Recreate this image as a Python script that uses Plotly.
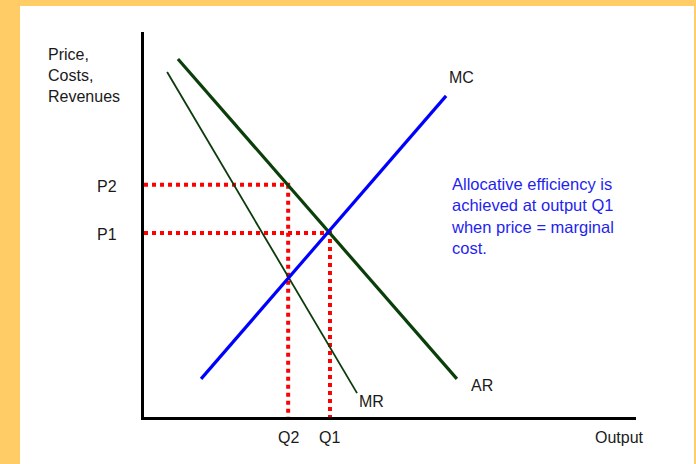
import plotly.graph_objects as go

# Curves (output, price) in chart units
ar_output = [0.69, 6.36]
ar_price = [9.30, 0.99]
mr_output = [0.47, 4.33]
mr_price = [8.96, 0.62]
mc_output = [1.16, 6.14]
mc_price = [0.99, 8.34]

# Key points
q_labels = ["Q2", "Q1"]
q_values = [2.93, 3.78]
p_labels = ["P2", "P1"]
p_values = [6.03, 4.78]

note_text = "Allocative efficiency is<br>achieved at output Q1<br>when price = marginal<br>cost."

FONT = "Liberation Sans, Arial, sans-serif"
TXT = "#1a1a1a"

fig = go.Figure()

# Red dotted guide lines
for q, p in zip(q_values, p_values):
    fig.add_trace(go.Scatter(x=[0, q, q], y=[p, p, 0], mode="lines",
                             line=dict(color="#ff0000", width=4, dash="dot"),
                             hoverinfo="skip", showlegend=False))

fig.add_trace(go.Scatter(x=mr_output, y=mr_price, mode="lines",
                         line=dict(color="#0b3a0b", width=1.8), showlegend=False))
fig.add_trace(go.Scatter(x=ar_output, y=ar_price, mode="lines",
                         line=dict(color="#0a3f0a", width=3.2), showlegend=False))
fig.add_trace(go.Scatter(x=mc_output, y=mc_price, mode="lines",
                         line=dict(color="#0000ff", width=3.2), showlegend=False))

ann = []
ann.append(dict(x=-0.199, y=0.888, xref="paper", yref="paper",
                text="Price,<br>Costs,<br>Revenues", xanchor="left",
                yanchor="middle", align="left", showarrow=False,
                font=dict(family=FONT, size=16, color=TXT)))
ann.append(dict(x=mc_output[1], y=mc_price[1], text="MC", xanchor="left", yanchor="middle",
                xshift=1, yshift=18, showarrow=False, font=dict(family=FONT, size=16, color=TXT)))
ann.append(dict(x=ar_output[1], y=ar_price[1], text="AR", xanchor="left", yanchor="middle",
                xshift=12, yshift=-7, showarrow=False, font=dict(family=FONT, size=16, color=TXT)))
ann.append(dict(x=mr_output[1], y=mr_price[1], text="MR", xanchor="left", yanchor="middle",
                xshift=0, yshift=-8, showarrow=False, font=dict(family=FONT, size=16, color=TXT)))
for lab, q in zip(q_labels, q_values):
    ann.append(dict(x=q, y=0, text=lab, xanchor="center", yanchor="middle", yshift=-20,
                    showarrow=False, font=dict(family=FONT, size=16, color=TXT)))
for lab, p in zip(p_labels, p_values):
    ann.append(dict(x=0, y=p, text=lab, xanchor="right", yanchor="middle", xshift=-25,
                    yshift=-2, showarrow=False, font=dict(family=FONT, size=16, color=TXT)))
ann.append(dict(x=10, y=0, text="Output", xanchor="right", yanchor="middle", xshift=10, yshift=-20,
                showarrow=False, font=dict(family=FONT, size=16, color=TXT)))
ann.append(dict(x=6.2, y=5.22, text=note_text, xanchor="left", yanchor="middle", align="left",
                showarrow=False, font=dict(family=FONT, size=16.5, color="#1f1ff0")))

fig.update_layout(
    width=696, height=464,
    margin=dict(l=144, r=60, t=32, b=47),
    paper_bgcolor="#ffcc66",
    plot_bgcolor="#ffffff",
    annotations=ann,
    shapes=[dict(type="rect", xref="paper", yref="paper",
                 x0=-0.252, x1=1.118, y0=-0.13, y1=1.0675,
                 fillcolor="#ffffff", line=dict(width=0), layer="below")],
    xaxis=dict(range=[0, 10], showgrid=False, zeroline=False, showticklabels=False,
               ticks="", showline=True, linecolor="#000000", linewidth=2.5),
    yaxis=dict(range=[0, 10], showgrid=False, zeroline=False, showticklabels=False,
               ticks="", showline=True, linecolor="#000000", linewidth=2.5),
)

fig.write_html("out.html", config={"displayModeBar": False},
               post_script="document.body.style.margin='0';document.body.style.padding='0';")
